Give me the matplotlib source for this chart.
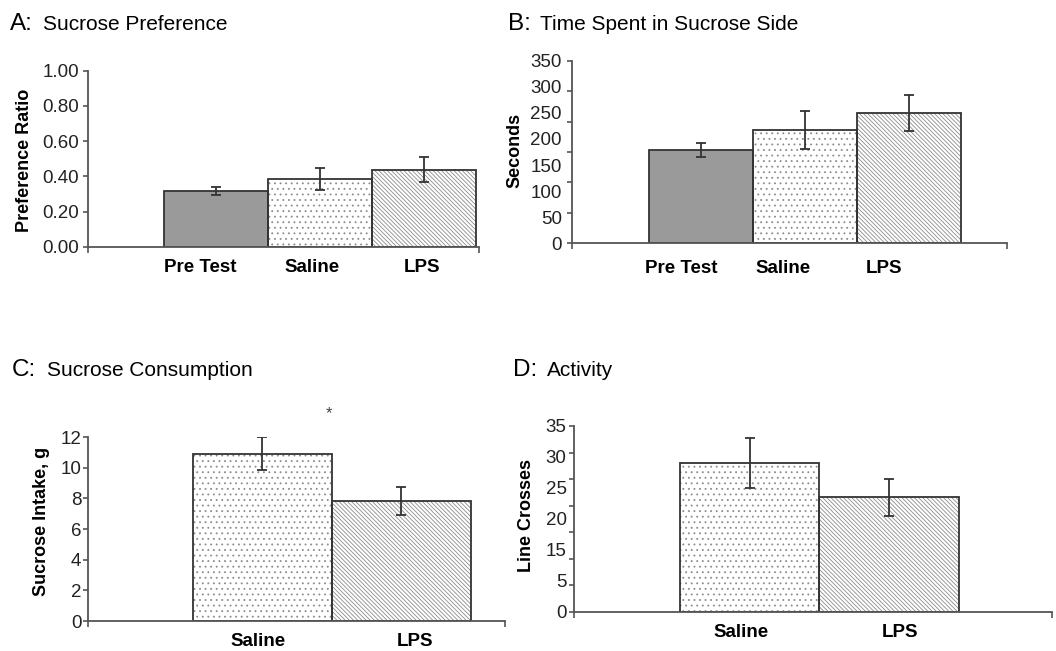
import numpy as np
import matplotlib
matplotlib.use("Agg")
import matplotlib.pyplot as plt

plt.rcParams['font.family'] = ['Liberation Sans', 'DejaVu Sans']
plt.rcParams['hatch.linewidth'] = 0.6

# A: sucrose preference
pref_groups = ["Pre Test", "Saline", "LPS"]
pref_ratio = [0.316, 0.385, 0.437]
pref_err = [0.022, 0.060, 0.072]

# B: time spent in sucrose side (s)
time_groups = ["Pre Test", "Saline", "LPS"]
time_sec = [179, 217, 250]
time_err = [13, 36, 34]

# C: sucrose consumption (g)
intake_groups = ["Saline", "LPS"]
intake_g = [10.9, 7.83]
intake_err = [1.07, 0.89]

# D: activity
activity_groups = ["Saline", "LPS"]
line_crosses = [28.1, 21.6]
line_err = [4.7, 3.5]

# y tick labels as printed in the original figure
a_labels = ["0.00", "0.20", "0.40", "0.60", "0.80", "1.00"]
b_labels = ["0", "50", "100", "150", "200", "250", "300", "350"]
c_labels = ["0", "2", "4", "6", "8", "10", "12"]
d_labels = ["0", "5", "15", "20", "25", "30", "35"]

fills = {"Pre Test": ("#9a9a9a", ""),
         "Saline": ("white", "..."),
         "LPS": ("white", "\\" * 8)}

W, H = 1056, 651
fig = plt.figure(figsize=(W / 100, H / 100), dpi=100)
axis_col = "#555555"
dark = "#333333"


def px_rect(x0, x1, ytop, ybot):
    return [x0 / W, 1 - ybot / H, (x1 - x0) / W, (ybot - ytop) / H]


def panel(rect, groups, vals, errs, ymax, xlim, tick_marks, lab_pos, labels,
          ylab_pad, lab_dx, xlab_pad, ylabel, ylab_x, ylab_y):
    ax = fig.add_axes(rect)
    ax.yaxis.remove_overlapping_locs = False
    x = np.arange(1, len(groups) + 1)
    bars = ax.bar(x, vals, width=1.0, color=[fills[g][0] for g in groups],
                  edgecolor="#8c8c8c", linewidth=0)
    for b, g in zip(bars, groups):
        b.set_hatch(fills[g][1])
    ax.bar(x, vals, width=1.0, fill=False, edgecolor=dark, linewidth=1.3)
    ax.errorbar(x, vals, yerr=errs, fmt="none", ecolor=dark, elinewidth=1.3,
                capsize=3.3, capthick=1.3)

    ax.set_xlim(*xlim)
    ax.set_ylim(0, ymax)
    for s in ["top", "right"]:
        ax.spines[s].set_visible(False)
    for s in ["left", "bottom"]:
        ax.spines[s].set_color(axis_col)
        ax.spines[s].set_linewidth(1.3)

    ax.set_yticks(tick_marks)
    ax.set_yticklabels([])
    ax.set_yticks(lab_pos, labels, minor=True)
    ax.tick_params(axis="y", which="major", length=3.5, width=1.2, color=axis_col)
    ax.tick_params(axis="y", which="minor", length=0, pad=ylab_pad,
                   labelsize=13.5, labelcolor="#222222")

    ax.set_xticks(x + np.array(lab_dx), groups)
    ax.set_xticks(list(xlim), minor=True)
    ax.tick_params(axis="x", which="major", length=0, pad=xlab_pad, labelsize=13.5)
    ax.tick_params(axis="x", which="minor", length=4, width=1.2, color=axis_col)
    for t in ax.get_xticklabels():
        t.set_fontweight("bold")

    ax.set_ylabel(ylabel, fontsize=13, fontweight="bold", va="center")
    ax.yaxis.set_label_coords(ylab_x, ylab_y)
    return ax


def title(xl, xs, yb, letter, text):
    fig.text(xl / W, 1 - yb / H, letter, fontsize=17.5, va="baseline")
    fig.text(xs / W, 1 - yb / H, text, fontsize=15, va="baseline")


# A
wA = 479 - 87.7
panel(px_rect(87.7, 479, 70.7, 246.7), pref_groups, pref_ratio, pref_err, 1.0,
      (-0.234, 3.529), np.arange(0, 1.01, 0.2), np.arange(0, 1.01, 0.2), a_labels,
      6.0, [-0.154, -0.077, -0.02], 9, "Preference Ratio", -(87.7 - 25) / wA, 0.49)
title(10, 43, 30, "A:", "Sucrose Preference")

# B
wB = 1007 - 571.7
panel(px_rect(571.7, 1007, 60.7, 243.3), time_groups, time_sec, time_err, 350,
      (-0.248, 3.946), np.linspace(0, 350, 7), np.arange(0, 351, 50), b_labels,
      7.0, [-0.19, -0.21, -0.24], 12, "Seconds", -(571.7 - 515) / wB, 0.51)
title(508, 540, 30, "B:", "Time Spent in Sucrose Side")

# C
wC = 505 - 87.7
axC = panel(px_rect(87.7, 505, 437, 621), intake_groups, intake_g, intake_err, 12,
            (-0.254, 2.744), np.arange(0, 13, 2), np.arange(0, 13, 2), c_labels,
            4.5, [-0.03, 0.10], 9, "Sucrose Intake, g", -(87.7 - 41.7) / wC, 0.54)
axC.text(1.48, 13.5, "*", ha="center", va="center", fontsize=12, color="#444444",
         clip_on=False)
title(12, 47, 376, "C:", "Sucrose Consumption")

# D
wD = 1052 - 574.3
panel(px_rect(574.3, 1052, 426, 611.7), activity_groups, line_crosses, line_err, 35,
      (-0.261, 3.17), np.arange(0, 36, 5), np.linspace(0, 35, len(d_labels)), d_labels,
      5.5, [-0.06, 0.08], 9, "Line Crosses", -(574.3 - 526.7) / wD, 0.52)
title(513, 547, 376, "D:", "Activity")

fig.savefig("out.png", dpi=100)
